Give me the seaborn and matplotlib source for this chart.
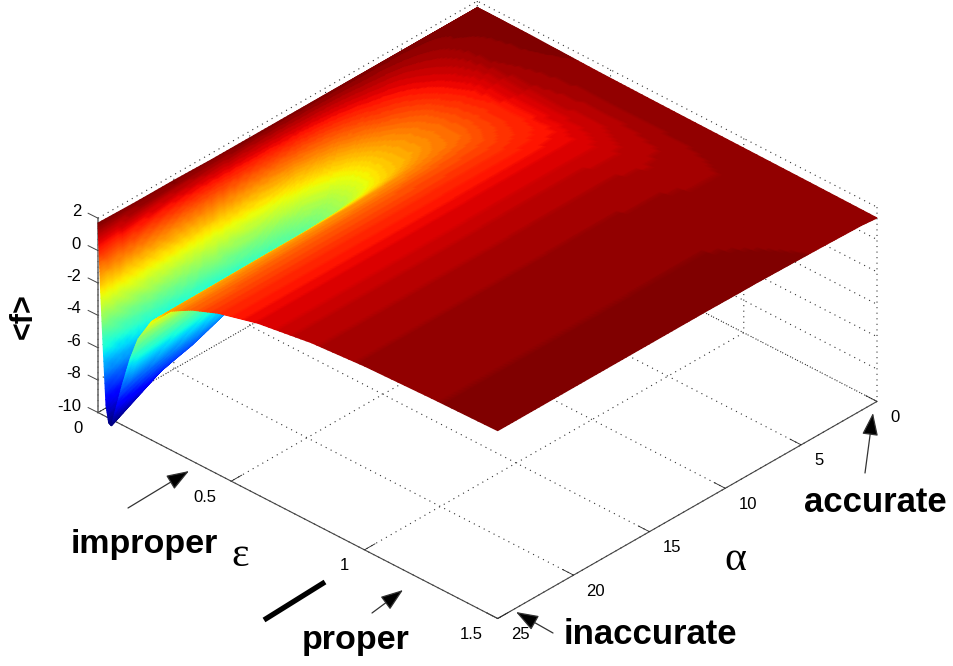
import numpy as np
import matplotlib
matplotlib.use("Agg")
import matplotlib.pyplot as plt
import seaborn as sns
from mpl_toolkits.mplot3d import proj3d

# grid values
eps = [0, .005, .01, .02, .03, .04, .05, .07, .09, .12, .15, .2, .27, .35, .45, .6, .8, 1.0, 1.25, 1.5]
alpha = [0, 1, 2.5, 4, 5, 6, 7, 8, 9, 10, 11, 12.5, 15, 17.5, 20, 22.5, 25]

f_a0 = [1.6, 1.6, 1.6, 1.6, 1.6, 1.6, 1.6, 1.6, 1.6, 1.59, 1.59, 1.58, 1.55, 1.52, 1.48, 1.45, 1.42, 1.4, 1.37, 1.33]
f_a1 = [1.6, 1.6, 1.6, 1.59, 1.59, 1.58, 1.58, 1.57, 1.56, 1.55, 1.54, 1.52, 1.5, 1.47, 1.44, 1.42, 1.41, 1.4, 1.4, 1.42]
f_a2 = [1.6, 1.59, 1.58, 1.56, 1.55, 1.53, 1.52, 1.5, 1.47, 1.43, 1.4, 1.33, 1.24, 1.14, 1.04, .95, 1.12, 1.3, 1.42, 1.46]
f_a4 = [1.6, 1.58, 1.55, 1.47, 1.41, 1.34, 1.28, 1.14, 1.02, .85, .69, .41, .19, .15, .22, .6, 1.05, 1.3, 1.45, 1.5]
f_a5 = [1.6, 1.54, 1.5, 1.39, 1.28, 1.18, 1.07, .88, .69, .4, .14, -.19, -.3, -.2, .08, .58, 1.08, 1.32, 1.47, 1.52]
f_a6 = [1.6, 1.55, 1.44, 1.29, 1.12, .95, .78, .52, .23, -.2, -.58, -.78, -.8, -.45, 0, .6, 1.1, 1.33, 1.48, 1.54]
f_a7 = [1.6, 1.49, 1.38, 1.17, .94, .72, .51, .14, -.25, -.78, -1.09, -1.2, -1.0, -.5, -.01, .6, 1.1, 1.34, 1.49, 1.56]
f_a8 = [1.6, 1.47, 1.33, 1.04, .74, .45, .22, -.26, -.77, -1.38, -1.57, -1.6, -1.1, -.55, -.01, .6, 1.1, 1.35, 1.5, 1.58]
f_a9 = [1.6, 1.4, 1.19, .79, .34, -.03, -.36, -1.1, -1.77, -2.06, -2.1, -1.95, -1.2, -.58, -.02, .6, 1.1, 1.35, 1.5, 1.58]
f_a10 = [1.6, 1.31, 1.02, .43, -.11, -.65, -1.15, -2.14, -2.7, -2.9, -2.8, -2.25, -1.29, -.6, -.02, .6, 1.1, 1.35, 1.5, 1.59]
f_a11 = [1.6, 1.23, .83, .06, -.68, -1.32, -1.95, -3.28, -3.62, -3.7, -3.25, -2.4, -1.33, -.62, -.02, .6, 1.1, 1.35, 1.5, 1.6]
f_a12 = [1.6, 1.08, .55, -.54, -1.42, -2.37, -3.25, -4.45, -4.68, -4.4, -3.5, -2.5, -1.38, -.64, -.03, .6, 1.1, 1.35, 1.5, 1.6]
f_a15 = [1.6, .81, .03, -1.48, -2.83, -4.18, -5.34, -5.9, -5.85, -4.85, -3.75, -2.6, -1.4, -.66, -.04, .6, 1.1, 1.35, 1.5, 1.6]
f_a17 = [1.6, .57, -.46, -2.36, -4.16, -5.88, -6.7, -7.0, -6.5, -5.05, -3.9, -2.62, -1.41, -.67, -.04, .6, 1.1, 1.35, 1.5, 1.6]
f_a20 = [1.65, .26, -1.09, -3.49, -5.79, -7.42, -7.9, -7.9, -7.0, -5.35, -4.0, -2.65, -1.42, -.68, -.05, .6, 1.1, 1.35, 1.5, 1.6]
f_a22 = [1.65, 0, -1.64, -4.56, -7.47, -8.93, -9.15, -8.5, -7.3, -5.55, -4.1, -2.68, -1.45, -.7, -.05, .6, 1.1, 1.35, 1.5, 1.6]
f_a25 = [1.7, -.4, -2.5, -6, -9.3, -10.3, -10.4, -9, -7.6, -5.7, -4.2, -2.7, -1.45, -.7, -.05, .6, 1.1, 1.35, 1.5, 1.6]

alpha_ticks = [0, 5, 10, 15, 20, 25]
eps_ticks = [0, .5, 1, 1.5]
eps_labels = ["0", "0.5", "1", "1.5"]
f_ticks = [-10, -8, -6, -4, -2, 0, 2]

W, H = 954, 666
ASPECT = (1, 1, .42)

sns.set_theme(style="white", rc={"grid.linestyle": (0, (1, 4)), "grid.linewidth": .8, "grid.color": "#333333"})
plt.rcParams["font.family"] = ["Liberation Sans", "DejaVu Sans"]

fig = plt.figure(figsize=(W / 100, H / 100), dpi=100)
side = 1200
left, bottom = (W - side) / 2, (H - side) / 2
ax = fig.add_axes([left / W, bottom / H, side / W, side / H], projection="3d", proj_type="ortho", elev=32.9, azim=43.5)
ax.patch.set_alpha(0)
ax.set_xlim(0, 25)
ax.set_ylim(0, 1.5)
ax.set_zlim(-10, 2)
ax.set_xticks(alpha_ticks)
ax.set_yticks(eps_ticks)
ax.set_zticks(f_ticks)
ax.set_xticklabels([])
ax.set_yticklabels([])
ax.set_zticklabels([])
ax.grid(True)

for axis in (ax.xaxis, ax.yaxis, ax.zaxis):
    axis.set_pane_color((1, 1, 1, 0))
    axis.pane.set_edgecolor("none")
    axis.line.set_color("#444444")
    axis.line.set_linewidth(.8)
    axis._axinfo["tick"].update(inward_factor=0, outward_factor=.35, linewidth={True: .6, False: .6}, color="#444444")
ax.zaxis.line.set_color("#666666")
ax.zaxis.line.set_linewidth(1.1)
ax.zaxis._axinfo["tick"].update(outward_factor=0)


def to_px(a, e, z):
    ax.apply_aspect()
    x, y, d = proj3d.proj_transform(np.asarray(a, float), np.asarray(e, float), np.asarray(z, float), ax.get_proj())
    p = ax.transData.transform(np.column_stack([np.ravel(x), np.ravel(y)]))
    return p[:, 0], p[:, 1], np.ravel(d)


# fit the box to the place of the axes in the picture
zoom = .68
for _ in range(2):
    ax.set_box_aspect(ASPECT, zoom=zoom)
    x0 = to_px([25], [0], [-10])[0][0]
    x1 = to_px([0], [1.5], [-10])[0][0]
    zoom *= (877 - 98) / (x1 - x0)
ax.set_box_aspect(ASPECT, zoom=zoom)
px0, py0, _ = to_px([25], [0], [-10])
left += 98 - px0[0]
bottom += (H - 412.5) - py0[0]
ax.set_position([left / W, bottom / H, side / W, side / H])

f = np.array([f_a0, f_a1, f_a2, f_a4, f_a5, f_a6, f_a7, f_a8, f_a9, f_a10, f_a11, f_a12, f_a15, f_a17, f_a20, f_a22, f_a25])
A, E = np.meshgrid(alpha, eps, indexing="ij")
n_a, n_e = f.shape

# each grid cell is shaded in small pieces, like shading interp in the original
k = 10
ii = np.linspace(0, n_a - 1, (n_a - 1) * k + 1)
jj = np.linspace(0, n_e - 1, (n_e - 1) * k + 1)


def shade_mesh(m):
    rows = np.array([np.interp(ii, np.arange(n_a), m[:, j]) for j in range(n_e)]).T
    return np.array([np.interp(jj, np.arange(n_e), r) for r in rows])


A_s, E_s, f_s = shade_mesh(A), shade_mesh(E), shade_mesh(f)
px, py, depth = to_px(A_s.ravel(), E_s.ravel(), f_s.ravel())
n_i, n_j = f_s.shape
corner = (np.arange(n_i - 1)[:, None] * n_j + np.arange(n_j - 1)[None, :]).ravel()
tris = np.vstack([
    np.column_stack([corner, corner + 1, corner + n_j]),
    np.column_stack([corner + 1, corner + n_j + 1, corner + n_j]),
])
# far triangles first
tris = tris[np.argsort(depth[tris].mean(axis=1))[::-1]]

over = fig.add_axes([0, 0, 1, 1], zorder=5)
over.tripcolor(px, H - py, tris, f_s.ravel(), shading="gouraud", cmap=plt.get_cmap("jet", 64), vmin=-10.4, vmax=1.7)
over.set_xlim(0, W)
over.set_ylim(H, 0)
over.axis("off")

# tick labels sit beside the projected ticks
tick_font = dict(fontsize=12, color="black", va="center")
for t in alpha_ticks:
    x, y, _ = to_px([t], [1.5], [-10])
    over.text(x[0] + 13, H - y[0] + 16, str(t), ha="left", **tick_font)
for t, s in zip(eps_ticks, eps_labels):
    x, y, _ = to_px([25], [t], [-10])
    over.text(x[0] - 15, H - y[0] + 16, s, ha="right", **tick_font)
for t in f_ticks:
    x, y, _ = to_px([25], [0], [t])
    over.plot([x[0], x[0] - 10], [H - y[0], H - y[0] - 5], color="#444444", lw=.7)
    over.text(x[0] - 17, H - y[0] - 6.5, str(t), ha="right", **tick_font)

# hand-made notes of the original figure
arrow = dict(arrowstyle="-|>,head_length=.7,head_width=.25", color="#333333", fc="black", lw=.9, mutation_scale=20, shrinkA=0, shrinkB=0)
over.annotate("", xy=(189, 471), xytext=(128, 508), arrowprops=arrow)
over.annotate("", xy=(403, 590), xytext=(372, 613), arrowprops=arrow)
over.annotate("", xy=(873, 413), xytext=(865, 473), arrowprops=arrow)
over.annotate("", xy=(516, 612), xytext=(553, 633), arrowprops=arrow)
over.plot([264, 325], [620, 582], color="black", lw=3.8, solid_capstyle="butt")

notes = dict(fontweight="bold", color="black", ha="center", va="center")
over.text(144, 544, "improper", fontsize=24.5, **notes)
over.text(356, 640, "proper", fontsize=24.5, **notes)
over.text(650, 634, "inaccurate", fontsize=25, **notes)
over.text(875, 502, "accurate", fontsize=25, **notes)
over.text(24, 316, "<f>", fontsize=22, rotation=90, **notes)
over.text(240, 556, "ε", fontsize=30, family="Liberation Serif", color="black", ha="center", va="center")
over.text(735, 560, "α", fontsize=30, family="Liberation Serif", color="black", ha="center", va="center")

fig.savefig("out.png", dpi=100)
